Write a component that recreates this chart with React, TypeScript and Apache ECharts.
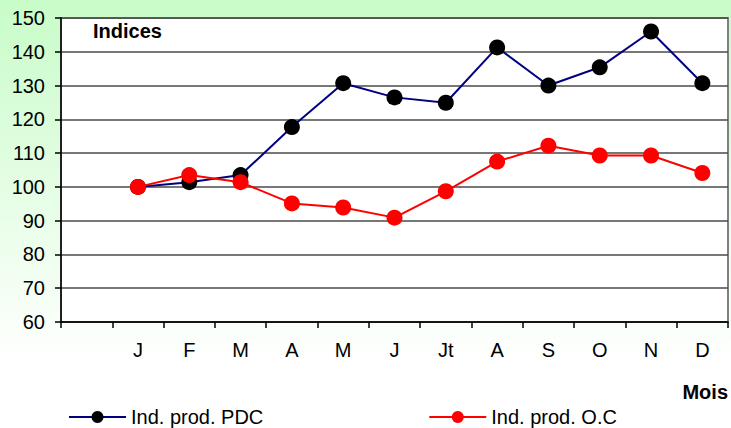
import React, { useEffect, useRef } from "react";
import * as echarts from "echarts";

const categories = ["", "J", "F", "M", "A", "M", "J", "Jt", "A", "S", "O", "N", "D"];
const pdcValues = [null, 100, 101.4, 103.5, 117.7, 130.7, 126.5, 124.9, 141.3, 130, 135.4, 146, 130.7];
const ocValues = [null, 100, 103.5, 101.4, 95.1, 93.9, 90.9, 98.7, 107.5, 112.2, 109.3, 109.3, 104.1];
const seriesNames = ["Ind. prod. PDC", "Ind. prod. O.C"];
const yMin = 60;
const yMax = 150;
const yStep = 10;

const FONT = "'Liberation Sans', Arial, sans-serif";

export default function App() {
  const ref = useRef<HTMLDivElement>(null);
  useEffect(() => {
    if (!ref.current) return;
    const chart = echarts.init(ref.current, undefined, { renderer: "svg" });
    chart.setOption({
      animation: false,
      backgroundColor: new echarts.graphic.LinearGradient(0, 0, 0, 1, [
        { offset: 0, color: "#c8fcc8" },
        { offset: 0.85, color: "#ffffff" },
        { offset: 1, color: "#ffffff" },
      ]),
      textStyle: { fontFamily: FONT },
      grid: {
        left: 61,
        right: 3,
        top: 18,
        bottom: 106,
        show: true,
        backgroundColor: "#ffffff",
        borderColor: "#808080",
        borderWidth: 2,
      },
      xAxis: {
        type: "category",
        data: categories,
        boundaryGap: true,
        axisLine: { lineStyle: { color: "#000000", width: 1.5 } },
        axisTick: { show: true, length: 6, interval: 0, lineStyle: { color: "#000000", width: 1.5 } },
        axisLabel: { color: "#000000", fontSize: 20, fontFamily: FONT, margin: 18, interval: 0 },
        splitLine: { show: false },
      },
      yAxis: {
        type: "value",
        min: yMin,
        max: yMax,
        interval: yStep,
        axisLine: { show: true, lineStyle: { color: "#000000", width: 1.5 } },
        axisTick: { show: true, length: 6, lineStyle: { color: "#000000", width: 1.5 } },
        axisLabel: { color: "#000000", fontSize: 20, fontFamily: FONT, margin: 16 },
        splitLine: { show: true, lineStyle: { color: "#4a4a4a", width: 1.5 } },
      },
      legend: {
        data: seriesNames,
        left: 63,
        top: 402,
        itemWidth: 57,
        itemHeight: 15,
        itemGap: 165,
        textStyle: { color: "#000000", fontSize: 20, fontFamily: FONT },
      },
      graphic: [
        {
          type: "text",
          left: 93,
          top: 21,
          style: { text: "Indices", fill: "#000000", font: `bold 20px ${FONT}` },
        },
        {
          type: "text",
          right: 3,
          top: 382,
          style: { text: "Mois", fill: "#000000", font: `bold 20px ${FONT}` },
        },
      ],
      series: [
        {
          name: seriesNames[0],
          type: "line",
          data: pdcValues,
          symbol: "circle",
          symbolSize: 16,
          lineStyle: { color: "#000080", width: 2 },
          itemStyle: { color: "#000000", borderWidth: 0 },
          z: 3,
        },
        {
          name: seriesNames[1],
          type: "line",
          data: ocValues,
          symbol: "circle",
          symbolSize: 16,
          lineStyle: { color: "#ff0000", width: 2 },
          itemStyle: { color: "#ff0000", borderWidth: 0 },
          z: 4,
        },
      ],
    });
    return () => chart.dispose();
  }, []);
  return (
    <div
      ref={ref}
      style={{ position: "fixed", left: 0, top: 0, width: 731, height: 428 }}
    />
  );
}
